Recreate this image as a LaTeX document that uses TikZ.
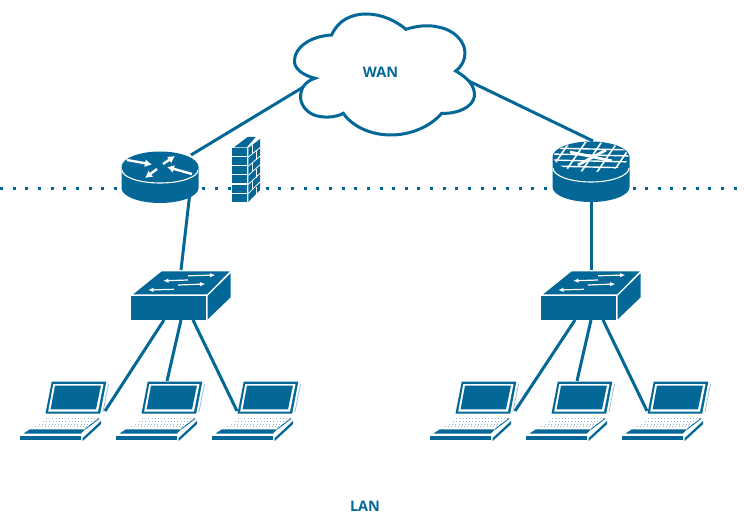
\documentclass[tikz,border=0pt]{standalone}
\usepackage{fontspec}
\setmainfont{Open Sans}
\definecolor{net}{HTML}{036897}
\definecolor{netl}{HTML}{8DBBD3}
\usetikzlibrary{arrows.meta,calc}
\tikzset{
 x=1pt,y=-1pt,
 link/.style={draw=net,line width=3pt},
 hit/.style={inner sep=0pt,outer sep=0pt,minimum width=#1},
 lbl/.style={text=net,font=\bfseries\fontsize{14.5}{16}\selectfont,inner sep=0pt},
 wl/.style={draw=white,line width=1.2pt},
 wa/.style={wl,-{Latex[length=5.5pt,width=4.5pt]}},
 ra/.style={draw=white,line width=2.4pt,-{Latex[length=7pt,width=8pt]}}
}
\newcommand{\cyl}[3]{% centre x, top ellipse centre y, body depth
 \begin{scope}[shift={(#1,#2)}]
 \fill[net] (-38.5,0) -- (-38.5,#3) arc[start angle=180,end angle=0,x radius=38.5,y radius=15] -- (38.5,0) arc[start angle=0,end angle=-180,x radius=38.5,y radius=15.5] -- cycle;
 \end{scope}}
\newcommand{\swch}[1]{%
 \begin{scope}[shift={(#1,0)}]
 \fill[net] (131,296) rectangle (206,319.5);
 \fill[net] (133,294.5) -- (161.5,271.5) -- (229.5,271.5) -- (207,294.5) -- cycle;
 \fill[net] (207.5,296) -- (230.5,273.5) -- (230.5,297.5) -- (207.5,319.5) -- cycle;
 \draw[wa] (188,275.8) -- (215.5,275);
 \draw[wa] (188,280) -- (163,280.8);
 \draw[wa] (178,285) -- (205.5,284);
 \draw[wa] (174,289.3) -- (148,290);
 \end{scope}}
\newcommand{\lapt}[1]{%
 \begin{scope}[shift={(#1,0)}]
 \fill[net] (51.7,381.7) -- (106.3,381.7) -- (100.2,413.5) -- (45.5,413.5) -- cycle;
 \fill[white] (53.3,384) -- (103.5,384) -- (98,411.5) -- (48.2,411.5) -- cycle;
 \fill[net] (55,385.7) -- (100.9,385.7) -- (96,409.4) -- (50.6,409.4) -- cycle;
 \draw[netl,line width=.7pt] (108.5,384) -- (103,412);
 \foreach \r/\a/\b in {0/46/98,1/43/94,2/39/91,3/35/87}
   \draw[netl,line width=.9pt,dash pattern=on 1pt off 2.2pt] (\a,418.8+\r*2.6) -- (\b,418.8+\r*2.6);
 \fill[net] (23.5,433.5) -- (30,429.3) -- (85,429.3) -- (81,433.5) -- cycle;
 \draw[net,line width=.8pt] (85,429.3) -- (99,418.5);
 \fill[net] (20,436) rectangle (80.7,440.3);
 \fill[net] (82.7,438) -- (101,421) -- (101,424.2) -- (82.7,441) -- cycle;
 \end{scope}}
\begin{document}
\begin{tikzpicture}
\useasboundingbox (0,0) rectangle (744,521);
\node[hit=1pt] (cloud) at (380,75) {};
\node[hit=77pt,minimum height=51pt] (r1) at (160,177) {};
\node[hit=77pt,minimum height=51pt] (r2) at (591,172) {};
\node[hit=100pt,minimum height=48pt] (s1) at (181,296) {};
\node[hit=100pt,minimum height=48pt] (s2) at (591,296) {};
\node[hit=80pt,minimum height=60pt] (p1) at (60,411) {};
\node[hit=80pt,minimum height=60pt] (p2) at (156,411) {};
\node[hit=80pt,minimum height=60pt] (p3) at (252,411) {};
\node[hit=80pt,minimum height=60pt] (p4) at (470,411) {};
\node[hit=80pt,minimum height=60pt] (p5) at (566,411) {};
\node[hit=80pt,minimum height=60pt] (p6) at (662,411) {};
\coordinate (dl) at (0,188.5);
\coordinate (dr) at (744,188.5);
% dotted boundary
\draw[net,line width=3pt,dash pattern=on 3pt off 9.65pt] (dl) -- (dr);
% connectors
\draw[link] ([shift={(31,-22)}]r1.center) -- ([shift={(-70,8)}]cloud.center);
\draw[link] ([shift={(70,-3)}]cloud.center) -- ([shift={(2,-31)}]r2.center);
\draw[link] ([shift={(30,15)}]r1.center) -- ([shift={(0,-26)}]s1.center);
\draw[link] (r2.center) -- ([shift={(0,-26)}]s2.center);
\draw[link] ([shift={(-17,24)}]s1.center) -- ([shift={(45,0)}]p1.center);
\draw[link] ([shift={(0,24)}]s1.center) -- ([shift={(11,-30)}]p2.center);
\draw[link] ([shift={(12,24)}]s1.center) -- ([shift={(-15,0)}]p3.center);
\draw[link] ([shift={(-16,24)}]s2.center) -- ([shift={(45,0)}]p4.center);
\draw[link] ([shift={(0,24)}]s2.center) -- ([shift={(11,-30)}]p5.center);
\draw[link] ([shift={(12,24)}]s2.center) -- ([shift={(-15,0)}]p6.center);
% cloud
\draw[net,fill=white,line width=3pt,line join=miter]
 (331.7,35) .. controls (338,20) and (352,14) .. (366,14)
 .. controls (382,14) and (396,21) .. (406,29.3)
 .. controls (416,26) and (428,24.5) .. (438,27)
 .. controls (455,30) and (465,42) .. (465,53)
 .. controls (465,60) and (462,66) .. (455.7,71)
 .. controls (468,78) and (475,86) .. (474.5,96)
 .. controls (473,107) and (458,114) .. (441.7,113.3)
 .. controls (430,127) and (410,135) .. (391,135)
 .. controls (370,135) and (352,126) .. (343.3,113.3)
 .. controls (335,118) and (322,118) .. (314,115)
 .. controls (304,111) and (300,102) .. (300.5,95)
 .. controls (301,88) and (306,81) .. (315,78.3)
 .. controls (302,75) and (293.5,68) .. (294.5,60)
 .. controls (295,47) and (311,36) .. (331.7,35) -- cycle;
\node[lbl] (wan) at (380.5,72) {WAN};
% router 1
\cyl{160}{167}{21}
\draw[white,line width=1.1pt] (122,170) arc[start angle=180,end angle=0,x radius=38,y radius=13];
\fill[net] (160,167) ellipse[x radius=37.5,y radius=14.5];
\begin{scope}[shift={(160,167)}]
 \draw[ra] (-33,-7) -- (-8,-2.5);
 \draw[ra] (32,7) -- (7,0);
 \draw[ra] (3,-3) -- (15,-11);
 \draw[ra] (-3,2) -- (-15,11);
\end{scope}
% router 2
\cyl{591}{157}{30}
\draw[white,line width=1.1pt] (553,168) arc[start angle=180,end angle=0,x radius=38,y radius=14];
\begin{scope}
 \clip (591,157) ellipse[x radius=37.5,y radius=15];
 \fill[net] (540,140) rectangle (640,175);
 \foreach \d in {-64,-48,...,64}
   \draw[white,line width=1.6pt] (591+\d+12,140) -- (591+\d-12,175);
 \foreach \yy in {149,155,161,167}
   \draw[white,line width=1.4pt] (550,\yy-1) -- (632,\yy+1);
 \draw[white,line width=2.8pt] (570,152) -- (612,161);
 \draw[white,line width=2.8pt] (578,165) -- (606,150);
\end{scope}
% firewall
\foreach \i in {0,...,5}
 \fill[net] (232,148.2+\i*9.1) rectangle (247.3,156.2+\i*9.1);
\fill[net] (248.3,148) -- (260,139) -- (260,190) -- (248.3,202) -- cycle;
\foreach \i in {1,...,5}
 \draw[white,line width=.8pt] (248.3,148+\i*9.1) -- (260,139+\i*8.6);
\foreach \i in {0,2,4}
 \draw[white,line width=.8pt] (252,145+\i*9.1) -- (252,154+\i*9.1);
\foreach \i in {1,3,5}
 \draw[white,line width=.8pt] (256,142+\i*9) -- (256,151+\i*9);
\fill[net] (234,147.3) -- (247.7,137) -- (255.7,137) -- (246.7,147.3) -- cycle;
% switches
\swch{0}
\swch{410}
% laptops
\lapt{0}\lapt{96}\lapt{192}\lapt{410}\lapt{506}\lapt{602}
\node[lbl] (lan) at (365,506) {LAN};
\end{tikzpicture}
\end{document}
